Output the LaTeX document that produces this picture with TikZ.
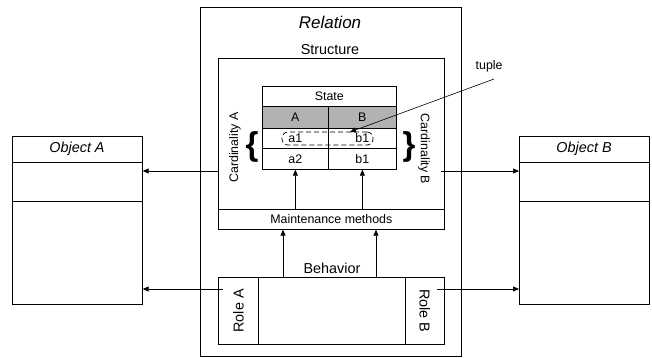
\documentclass[tikz,border=0pt]{standalone}
\usepackage{fontspec}
\setmainfont{Liberation Sans}
\usetikzlibrary{arrows.meta}
\begin{document}
\begin{tikzpicture}[x=1pt,y=-1pt,
  line width=0.7pt,
  box/.style={draw, inner sep=0pt, anchor=north west},
  arr/.style={-{Triangle[length=6pt,width=5pt]}},
  big/.style={font=\fontsize{17}{20}\selectfont\itshape},
  mid/.style={font=\fontsize{14.4}{17}\selectfont},
  small/.style={font=\fontsize{12.4}{14}\selectfont},
]
\useasboundingbox (0,0) rectangle (652,358);

% Relation frame
\node[box, minimum width=261pt, minimum height=349pt] (rel) at (200,7) {};
\node[big] (reltxt) at (330,22) {Relation};

% Structure part
\node[mid] (strtxt) at (330,50) {Structure};
\node[box, minimum width=226pt, minimum height=171pt] (str) at (218,58) {};
\node[box, minimum width=226pt, minimum height=20pt, small] (maint) at (218,209) {Maintenance methods};

% State table
\node[box, minimum width=134pt, minimum height=20pt, small] (state) at (262,86) {State};
\node[box, minimum width=66pt, minimum height=22pt, fill=gray!60, small] (ca) at (262,106) {A};
\node[box, minimum width=68pt, minimum height=22pt, fill=gray!60, small] (cb) at (328,106) {B};
\node[box, minimum width=66pt, minimum height=20pt, small] (a1) at (262,128) {a1};
\node[box, minimum width=68pt, minimum height=20pt, small] (b1) at (328,128) {b1};
\node[box, minimum width=66pt, minimum height=21pt, small] (a2) at (262,148) {a2};
\node[box, minimum width=68pt, minimum height=21pt, small] (b2) at (328,148) {b1};

% tuple marker
\node[draw, dash pattern=on 5pt off 3pt, rounded corners=6pt, minimum width=91pt, minimum height=13pt, inner sep=0pt] (tup) at (327.5,138.5) {};
\node[small, anchor=west] (tuptxt) at (472,66) {tuple};
\coordinate (tupfrom) at (494,79);
\coordinate (tupto) at (350,132);
\draw[arr, line width=0.6pt] (tupfrom) -- (tupto);

% cardinalities
\node[font=\fontsize{33}{33}\selectfont\bfseries, inner sep=0pt] (bl) at (252,147) {\{};
\node[font=\fontsize{33}{33}\selectfont\bfseries, inner sep=0pt] (br) at (409,147) {\}};
\node[small, rotate=90] (carda) at (235,147.5) {Cardinality A};
\node[small, rotate=-90] (cardb) at (424,149) {Cardinality B};

% maintenance arrows into the table
\draw[arr] (maint.north -| a2.south) -- (a2.south);
\draw[arr] (maint.north -| b2.south) -- (b2.south);

% Behavior part
\node[mid] (behtxt) at (332,268) {Behavior};
\node[box, minimum width=226pt, minimum height=67pt] (beh) at (218,277) {};
\node[box, minimum width=40pt, minimum height=67pt] (rolea) at (218,277) {};
\node[box, minimum width=39pt, minimum height=67pt] (roleb) at (405,277) {};
\node[mid, rotate=90] at (rolea.center) {Role A};
\node[mid, rotate=-90] at (roleb.center) {Role B};
\coordinate (bm1) at (283,277);
\coordinate (bm2) at (376,277);
\draw[arr] (bm1) -- (bm1 |- maint.south);
\draw[arr] (bm2) -- (bm2 |- maint.south);

% Objects
\node[box, minimum width=130pt, minimum height=168pt] (obja) at (12,136) {};
\node[box, minimum width=130pt, minimum height=168pt] (objb) at (519,136) {};
\draw (12,162) -- (142,162) (12,201) -- (142,201);
\draw (519,162) -- (649,162) (519,201) -- (649,201);
\node[mid, font=\fontsize{14.4}{17}\selectfont\itshape] (objatxt) at (77,149) {Object A};
\node[mid, font=\fontsize{14.4}{17}\selectfont\itshape] (objbtxt) at (584,149) {Object B};

% links from the relation to its objects
\coordinate (sl) at (218,171);
\coordinate (sr) at (441,171);
\coordinate (rl) at (223,289);
\coordinate (rr) at (437,289);
\draw[arr] (sl) -- (sl -| obja.east);
\draw[arr] (sr) -- (sr -| objb.west);
\draw[arr] (rl) -- (rl -| obja.east);
\draw[arr] (rr) -- (rr -| objb.west);
\end{tikzpicture}
\end{document}
